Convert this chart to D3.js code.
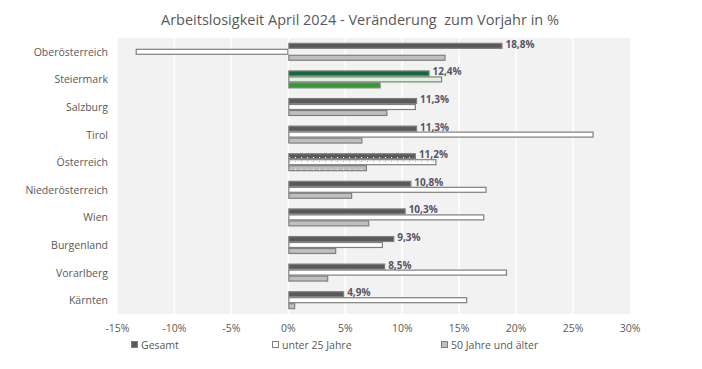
<!DOCTYPE html>
<html><head><meta charset="utf-8">
<script src="https://cdn.jsdelivr.net/npm/d3@7/dist/d3.min.js"></script>
<style>body{margin:0;background:#fff}svg{display:block}text{font-family:"Open Sans","Noto Sans",sans-serif}</style>
</head><body><svg id="c" width="702" height="369"></svg>
<script>
const title = "Arbeitslosigkeit April 2024 - Veränderung  zum Vorjahr in %";
const categories = ["Oberösterreich","Steiermark","Salzburg","Tirol","Österreich","Niederösterreich","Wien","Burgenland","Vorarlberg","Kärnten"];
const seriesNames = ["Gesamt","unter 25 Jahre","50 Jahre und älter"];
const gesamt = [18.8,12.4,11.3,11.3,11.2,10.8,10.3,9.3,8.5,4.9];
const unter25 = [-13.4,13.5,11.2,26.8,13.0,17.4,17.2,8.3,19.2,15.7];
const ab50 = [13.8,8.1,8.7,6.5,6.9,5.6,7.1,4.2,3.5,0.6];
const xTicks = [-15,-10,-5,0,5,10,15,20,25,30];

const svg = d3.select("#c");
const defs = svg.append("defs");
function dotPattern(id, bg, dot){
  const p = defs.append("pattern").attr("id",id).attr("patternUnits","userSpaceOnUse").attr("width",6).attr("height",4);
  p.append("rect").attr("width",6).attr("height",4).attr("fill",bg);
  p.append("rect").attr("x",1).attr("y",1).attr("width",1).attr("height",1).attr("fill",dot);
}
dotPattern("pG","#595959","#ffffff");
dotPattern("pU","#ffffff","#b0b0b0");
dotPattern("pA","#bfbfbf","#ffffff");

const x = d3.scaleLinear().domain([-15,30]).range([117.5,630]);
const y = d3.scaleBand().domain(categories).range([38,314]).paddingInner(0.35).paddingOuter(0.175);
const yi = d3.scaleBand().domain(seriesNames).range([0,y.bandwidth()]);

svg.append("rect").attr("x",x(-15)).attr("y",38).attr("width",x(30)-x(-15)).attr("height",276).attr("fill","#f2f2f2");
svg.append("g").selectAll("line").data(xTicks.slice(1,-1)).join("line")
  .attr("x1",d=>x(d)).attr("x2",d=>x(d)).attr("y1",38).attr("y2",314)
  .attr("stroke","#ffffff").attr("stroke-width",1.5);

svg.append("text").attr("x",360).attr("y",25).attr("text-anchor","middle")
  .style("white-space","pre")
  .attr("font-size",14.5).attr("fill","#595959").text(title);

const normalFill = ["#595959","#ffffff","#bfbfbf"];
const steierFill = ["#116b3b","#dcf2dc","#339933"];
const oeFill = ["url(#pG)","url(#pU)","url(#pA)"];
const series = [gesamt,unter25,ab50];

const rows = [];
categories.forEach((c,i)=>{
  series.forEach((s,j)=>{
    let fill = normalFill[j];
    if(c==="Steiermark") fill = steierFill[j];
    if(c==="Österreich") fill = oeFill[j];
    rows.push({c, s:seriesNames[j], v:s[i], fill});
  });
});
svg.append("g").selectAll("rect").data(rows).join("rect")
  .attr("x",d=>x(Math.min(0,d.v))+0.5)
  .attr("y",d=>y(d.c)+yi(d.s)+0.5)
  .attr("width",d=>Math.abs(x(d.v)-x(0))-1)
  .attr("height",yi.bandwidth()-1)
  .attr("fill",d=>d.fill).attr("stroke","#7f7f7f").attr("stroke-width",1.2);

svg.selectAll("text.lbl").data(categories.map((c,i)=>({c,v:gesamt[i]}))).join("text").attr("class","lbl")
  .attr("x",d=>x(d.v)+3).attr("y",d=>y(d.c)+yi("Gesamt")+5)
  .attr("font-size",10).attr("font-weight","bold").attr("fill","#555566")
  .text(d=>d3.format(".1f")(d.v).replace(".",",")+"%");

svg.selectAll("text.cat").data(categories).join("text").attr("class","cat")
  .attr("x",108).attr("y",d=>y(d)+y.bandwidth()/2+4).attr("text-anchor","end")
  .attr("font-size",10.5).attr("fill","#595959").text(d=>d);

svg.selectAll("text.tick").data(xTicks).join("text").attr("class","tick")
  .attr("x",d=>x(d)).attr("y",332).attr("text-anchor","middle")
  .attr("font-size",10.5).attr("fill","#595959").text(d=>d+"%");

const legX = [131,272,441];
const legFill = ["#595959","#ffffff","#bfbfbf"];
const lg = svg.selectAll("g.leg").data(seriesNames).join("g").attr("class","leg")
  .attr("transform",(d,i)=>`translate(${legX[i]},345)`);
lg.append("rect").attr("x",0.5).attr("y",-3.5).attr("width",6).attr("height",6)
  .attr("fill",(d,i)=>legFill[i]).attr("stroke","#7f7f7f").attr("stroke-width",1);
lg.append("text").attr("x",10).attr("y",3.5).attr("font-size",10.5).attr("fill","#595959").text(d=>d);
</script></body></html>
